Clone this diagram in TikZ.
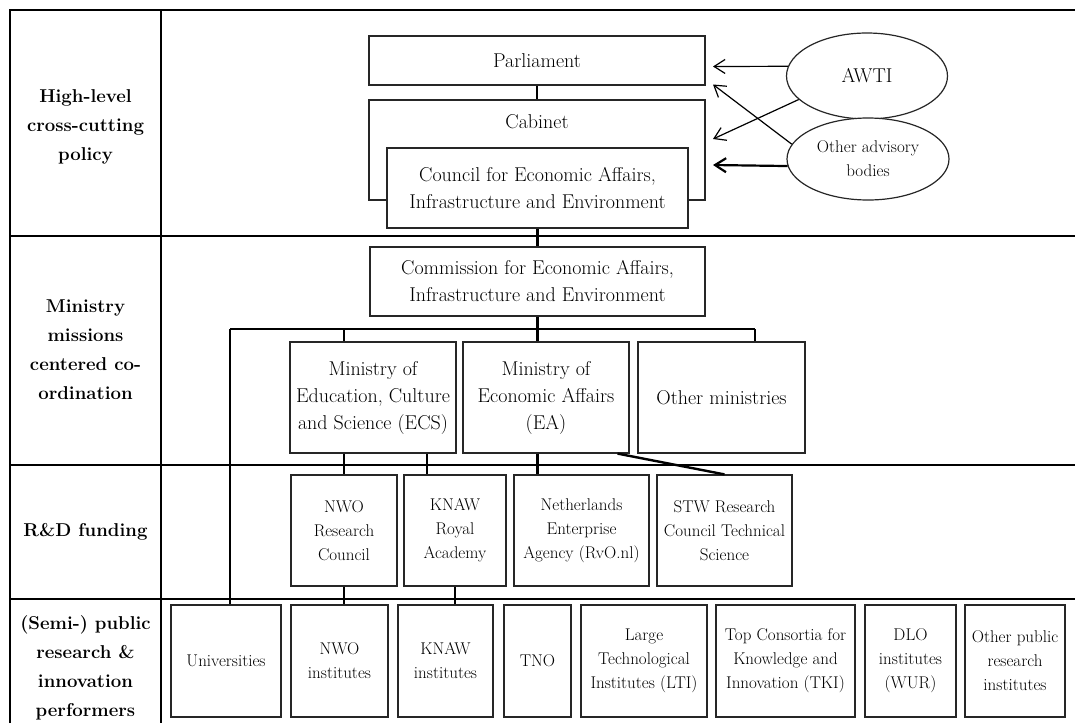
\documentclass[tikz,border=0pt]{standalone}
\usepackage{fontspec}
\usepackage{tikz}
\usetikzlibrary{positioning}
\usetikzlibrary{calc}
\usetikzlibrary{arrows.meta}
\usetikzlibrary{shapes.geometric}

\tikzset{
	unit/.style={
		draw=black!85,
		line width=1.2pt,
		fill=white,
		align=center,
		inner sep=2pt,
		font=\fontsize{20}{27}\selectfont
	},
	smallunit/.style={
		unit,
		font=\fontsize{17}{24}\selectfont
	},
	body/.style={
		ellipse,
		draw=black!85,
		line width=1.2pt,
		fill=white,
		align=center,
		inner sep=0pt
	},
	tier/.style={align=center, font=\bfseries\fontsize{18.6}{29}\selectfont},
	frame/.style={line width=2pt},
	link/.style={line width=2.4pt},
	advice/.style={line width=1.2pt, -{Straight Barb[length=11pt,width=14pt]}}
}

\begin{document}
\begin{tikzpicture}[x=1pt, y=-1pt]

	\useasboundingbox (0,0) rectangle (1075,723);

	% table grid
	\draw[frame] (10,723) -- (10,10) -- (1075,10);
	\draw[frame] (161,10) -- (161,723);
	\draw[frame] (10,236) -- (1075,236);
	\draw[frame] (10,465) -- (1075,465);
	\draw[frame] (10,599) -- (1075,599);

	% row headings
	\node[tier] (tierPolicy) at (85.5,127) {High-level\\cross-cutting\\policy};
	\node[tier] (tierMissions) at (85.5,350) {Ministry\\missions\\centered co-\\ordination};
	\node[tier] (tierFunding) at (85.5,532) {R\&D funding};
	\node[tier] (tierPerformers) at (85.5,668) {(Semi-) public\\research \&\\innovation\\performers};

	% high-level policy
	\node[
		unit,
		minimum width=336pt,
		minimum height=49pt
	] (parliament) at (537,60.5) {Parliament};

	\node[
		unit,
		minimum width=336pt,
		minimum height=100pt,
		label={[anchor=north, yshift=-12pt, font=\fontsize{20}{27}\selectfont]north:Cabinet}
	] (cabinet) at (537,150) {};

	\node[
		unit,
		minimum width=301pt,
		minimum height=80pt
	] (council) at (537.5,188) {Council for Economic Affairs,\\Infrastructure and Environment};

	\node[
		body,
		minimum width=161pt,
		minimum height=86pt,
		font=\fontsize{20}{27}\selectfont
	] (awti) at (867,76) {AWTI};

	\node[
		body,
		minimum width=162pt,
		minimum height=82pt,
		font=\fontsize{17}{24}\selectfont
	] (advisory) at (868,159) {Other advisory\\bodies};

	\coordinate (tipParliamentA) at (713,66.5);
	\coordinate (tipParliamentB) at (713,84.5);
	\coordinate (tipCabinet) at (713,139);
	\coordinate (tipCouncil) at (713,165);

	\draw[advice] (awti.173) -- (tipParliamentA);
	\draw[advice] (awti.199) -- (tipCabinet);
	\draw[advice] (advisory.169) -- (tipParliamentB);
	\draw[advice, line width=2.2pt] (advisory.185) -- (tipCouncil);

	% ministries
	\node[
		unit,
		minimum width=335pt,
		minimum height=69pt
	] (commission) at (537.5,281.5) {Commission for Economic Affairs,\\Infrastructure and Environment};

	\node[
		unit,
		minimum width=166pt,
		minimum height=111pt
	] (ecs) at (373,397.5) {Ministry of\\Education, Culture\\and Science (ECS)};

	\node[
		unit,
		minimum width=166pt,
		minimum height=111pt
	] (ea) at (546,397.5) {Ministry of\\Economic Affairs\\(EA)};

	\node[
		unit,
		minimum width=167pt,
		minimum height=111pt
	] (otherMinistries) at (721.5,397.5) {Other ministries};

	% funding
	\node[
		smallunit,
		minimum width=106pt,
		minimum height=111pt
	] (nwoCouncil) at (344,530.5) {NWO\\Research\\Council};

	\node[
		smallunit,
		minimum width=102pt,
		minimum height=111pt
	] (knawAcademy) at (455,530.5) {KNAW\\Royal\\Academy};

	\node[
		smallunit,
		minimum width=135pt,
		minimum height=111pt
	] (rvo) at (581.5,530.5) {Netherlands\\Enterprise\\Agency (RvO.nl)};

	\node[
		smallunit,
		minimum width=135pt,
		minimum height=111pt
	] (stw) at (724.5,530.5) {STW Research\\Council Technical\\Science};

	% performers
	\node[smallunit, minimum width=110pt, minimum height=112pt] (universities) at (226,661) {Universities};
	\node[smallunit, minimum width=97pt, minimum height=112pt] (nwoInstitutes) at (339.5,661) {NWO\\institutes};
	\node[smallunit, minimum width=95pt, minimum height=112pt] (knawInstitutes) at (445.5,661) {KNAW\\institutes};
	\node[smallunit, minimum width=67pt, minimum height=112pt] (tno) at (537.5,661) {TNO};
	\node[smallunit, minimum width=126pt, minimum height=112pt] (lti) at (644,661) {Large\\Technological\\Institutes (LTI)};
	\node[smallunit, minimum width=139pt, minimum height=112pt] (tki) at (785.5,661) {Top Consortia for\\Knowledge and\\Innovation (TKI)};
	\node[smallunit, minimum width=91pt, minimum height=112pt] (dlo) at (910.5,661) {DLO\\institutes\\(WUR)};
	\node[smallunit, minimum width=100pt, minimum height=112pt] (otherInstitutes) at (1015,661) {Other public\\research\\institutes};

	% links
	\draw[link] (parliament.south) -- (cabinet.north);
	\draw[link] (council.south) -- (commission.north);

	\coordinate (busLeft) at (230,329);
	\coordinate (busRight) at (755,329);

	\draw[link] (commission.south) -- (commission.south |- busLeft);
	\draw[link] (busLeft) -- (busRight);
	\draw[link] (busLeft) -- (busLeft |- universities.north);
	\draw[link] (nwoCouncil.north |- busLeft) -- (nwoCouncil.north |- ecs.north);
	\draw[link] (commission.south |- busLeft) -- (commission.south |- ea.north);
	\draw[link] (busRight) -- (busRight |- otherMinistries.north);

	\draw[link] (nwoCouncil.north |- ecs.south) -- (nwoCouncil.north);
	\draw[link] ([xshift=-28pt]knawAcademy.north |- ecs.south) -- ([xshift=-28pt]knawAcademy.north);
	\draw[link] (commission.south |- ea.south) -- (commission.south |- rvo.north);
	\draw[link] ([xshift=-12pt]ea.south east) -- (stw.north);

	\draw[link] (nwoCouncil.south) -- (nwoCouncil.south |- nwoInstitutes.north);
	\draw[link] (knawAcademy.south) -- (knawAcademy.south |- knawInstitutes.north);

\end{tikzpicture}
\end{document}
